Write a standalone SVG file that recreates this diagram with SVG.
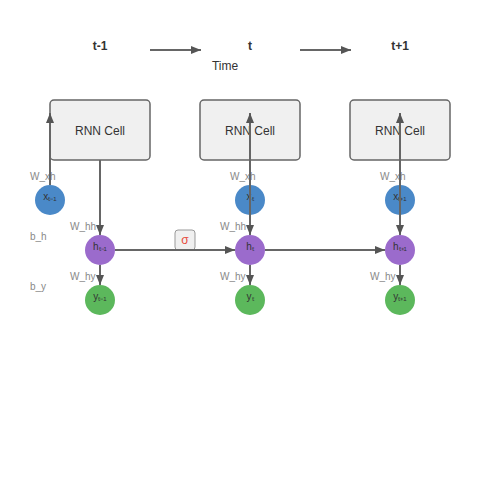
<svg xmlns="http://www.w3.org/2000/svg" width="500" height="500" viewBox="0 0 500 500">
<defs>
<marker id="arr" markerUnits="userSpaceOnUse" markerWidth="10" markerHeight="8" refX="10" refY="4" orient="auto">
<path d="M0,0 L10,4 L0,8 z" fill="#555"/>
</marker>
</defs>
<style>
text{font-family:"Liberation Sans",Arial,sans-serif}
.time{font-size:12px;font-weight:bold;fill:#333;text-anchor:middle}
.cell rect{fill:#f0f0f0;stroke:#666;stroke-width:1.5}
.cell text{font-size:12px;fill:#333;text-anchor:middle}
.node text{font-size:10px;fill:#333;text-anchor:middle}
.lbl{font-size:10px;fill:#888}
.x circle{fill:#4a89c8}
.h circle{fill:#9b6bcc}
.y circle{fill:#5cb85c}
#connectors line{stroke:#666;stroke-width:2;marker-end:url(#arr)}
</style>
<rect width="500" height="500" fill="#fff"/>
<g id="time">
<text class="time" x="100" y="50">t-1</text>
<text class="time" x="250" y="50">t</text>
<text class="time" x="400" y="50">t+1</text>
<text x="225" y="70" style="font-size:12px;fill:#333;text-anchor:middle">Time</text>
</g>
<g id="cell1" class="cell"><rect x="50" y="100" width="100" height="60" rx="4"/><text x="100" y="135">RNN Cell</text></g>
<g id="cell2" class="cell"><rect x="200" y="100" width="100" height="60" rx="4"/><text x="250" y="135">RNN Cell</text></g>
<g id="cell3" class="cell"><rect x="350" y="100" width="100" height="60" rx="4"/><text x="400" y="135">RNN Cell</text></g>
<g id="x1" class="node x"><circle cx="50" cy="200" r="15"/><text x="50" y="200">xₜ₋₁</text></g>
<g id="x2" class="node x"><circle cx="250" cy="200" r="15"/><text x="250" y="200">xₜ</text></g>
<g id="x3" class="node x"><circle cx="400" cy="200" r="15"/><text x="400" y="200">xₜ₊₁</text></g>
<g id="h1" class="node h"><circle cx="100" cy="250" r="15"/><text x="100" y="250">hₜ₋₁</text></g>
<g id="h2" class="node h"><circle cx="250" cy="250" r="15"/><text x="250" y="250">hₜ</text></g>
<g id="h3" class="node h"><circle cx="400" cy="250" r="15"/><text x="400" y="250">hₜ₊₁</text></g>
<g id="y1" class="node y"><circle cx="100" cy="300" r="15"/><text x="100" y="300">yₜ₋₁</text></g>
<g id="y2" class="node y"><circle cx="250" cy="300" r="15"/><text x="250" y="300">yₜ</text></g>
<g id="y3" class="node y"><circle cx="400" cy="300" r="15"/><text x="400" y="300">yₜ₊₁</text></g>
<g id="sigma"><rect x="175" y="230" width="20" height="20" rx="3" fill="#f0f0f0" stroke="#999"/><text x="185" y="244" style="font-size:12px;fill:#e74c3c;text-anchor:middle">σ</text></g>
<g id="labels">
<text class="lbl" x="30" y="180">W_xh</text>
<text class="lbl" x="230" y="180">W_xh</text>
<text class="lbl" x="380" y="180">W_xh</text>
<text class="lbl" x="70" y="230">W_hh</text>
<text class="lbl" x="220" y="230">W_hh</text>
<text class="lbl" x="70" y="280">W_hy</text>
<text class="lbl" x="220" y="280">W_hy</text>
<text class="lbl" x="370" y="280">W_hy</text>
<text class="lbl" x="30" y="240">b_h</text>
<text class="lbl" x="30" y="290">b_y</text>
</g>
<g id="connectors">
<line x1="150" y1="50" x2="201" y2="50"/>
<line x1="300" y1="50" x2="351" y2="50"/>
<line x1="50" y1="185" x2="50" y2="113"/>
<line x1="250" y1="185" x2="250" y2="113"/>
<line x1="400" y1="185" x2="400" y2="113"/>
<line x1="100" y1="160" x2="100" y2="235"/>
<line x1="250" y1="160" x2="250" y2="235"/>
<line x1="400" y1="160" x2="400" y2="235"/>
<line x1="100" y1="265" x2="100" y2="285"/>
<line x1="250" y1="265" x2="250" y2="285"/>
<line x1="400" y1="265" x2="400" y2="285"/>
<line x1="115" y1="250" x2="235" y2="250"/>
<line x1="265" y1="250" x2="385" y2="250"/>
</g>
</svg>
